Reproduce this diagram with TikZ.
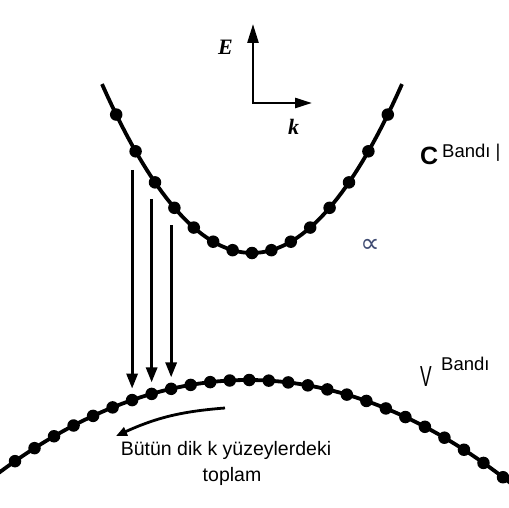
\documentclass[tikz,border=0pt]{standalone}
\usepackage{fontspec}
\setmainfont{Liberation Sans}
\newfontfamily\timesf{Liberation Serif}
\newfontfamily\dejavu{DejaVu Sans}
\usetikzlibrary{arrows.meta}
\definecolor{propcol}{rgb}{0.25,0.3,0.45}
\begin{document}
\begin{tikzpicture}[x=1pt,y=-1pt,
  band/.style={line width=3.8pt},
  dot/.style={circle,fill=black,inner sep=0pt,minimum size=12.5pt},
  trans/.style={line width=3pt,shorten >=5pt,-{Triangle[length=15pt,width=11pt]}},
  axis/.style={line width=2.6pt,{Triangle[length=19pt,width=11pt]}-{Triangle[length=17pt,width=10pt]}},
  sumarrow/.style={line width=2.8pt,-{Triangle[length=11pt,width=9pt]}},
  lab/.style={inner sep=0pt,anchor=base west},
  axlab/.style={lab,font=\timesf\bfseries\itshape\fontsize{22}{22}\selectfont},
  bandlab/.style={lab,font=\fontsize{18.5}{20}\selectfont},
  txt/.style={inner sep=0pt,anchor=base,font=\fontsize{19.5}{22}\selectfont}]
\useasboundingbox[fill=white] (0,0) rectangle (509,508);
% conduction band
\draw[band] plot[domain=-150:150,samples=61] ({252+\x},{253-0.0075*(\x)*(\x)});
\foreach \k in {0,...,14}{
  \pgfmathsetmacro\dx{19.4*(\k-7)}
  \pgfmathsetmacro\dy{0.0075*(\dx)*(\dx)}
  \node[dot] (c\k) at ({252+\dx},{253-\dy}) {};
}
% valence band
\draw[band] plot[domain=-252:263,samples=103] ({248+\x},{380+0.0015*(\x)*(\x)});
\foreach \j in {0,...,25}{
  \pgfmathsetmacro\dx{15+19.52*\j-248}
  \pgfmathsetmacro\dy{0.0015*(\dx)*(\dx)}
  \node[dot] (v\j) at ({248+\dx},{380+\dy}) {};
}
% transitions
\coordinate (a1) at (v6 |- 0,170);
\coordinate (a2) at (v7 |- 0,199);
\coordinate (a3) at (v8 |- 0,225);
\draw[trans] (a1) -- (v6.north);
\draw[trans] (a2) -- (v7.north);
\draw[trans] (a3) -- (v8.north);
% axes
\coordinate (o) at (253,103);
\coordinate (etip) at (253,24);
\coordinate (ktip) at (312,103);
\draw[axis] (etip) -- (o) -- (ktip);
\node[axlab] (E) at (218,55) {E};
\node[axlab] (k) at (288,135) {k};
% band labels
\node[lab,font=\bfseries\fontsize{25}{25}\selectfont] (C) at (420,165) {C};
\node[bandlab] (CB) at (442,158) {Bandı |};
\node[lab,font=\fontsize{29}{29}\selectfont] (V) at (420,386) {\scalebox{0.6}[1]{V}};
\node[bandlab] (VB) at (441,370) {Bandı};
\node[inner sep=0pt,text=propcol,font=\dejavu\fontsize{27}{27}\selectfont] (prop) at (370,246) {∝};
% summation arrow
\coordinate (s) at (225,408);
\coordinate (e) at (116,436);
\draw[sumarrow] (s) to[bend right=10] (e);
\node[txt] (t1) at (226,455) {Bütün dik k yüzeylerdeki};
\node[txt] (t2) at (232,481) {toplam};
\end{tikzpicture}
\end{document}
